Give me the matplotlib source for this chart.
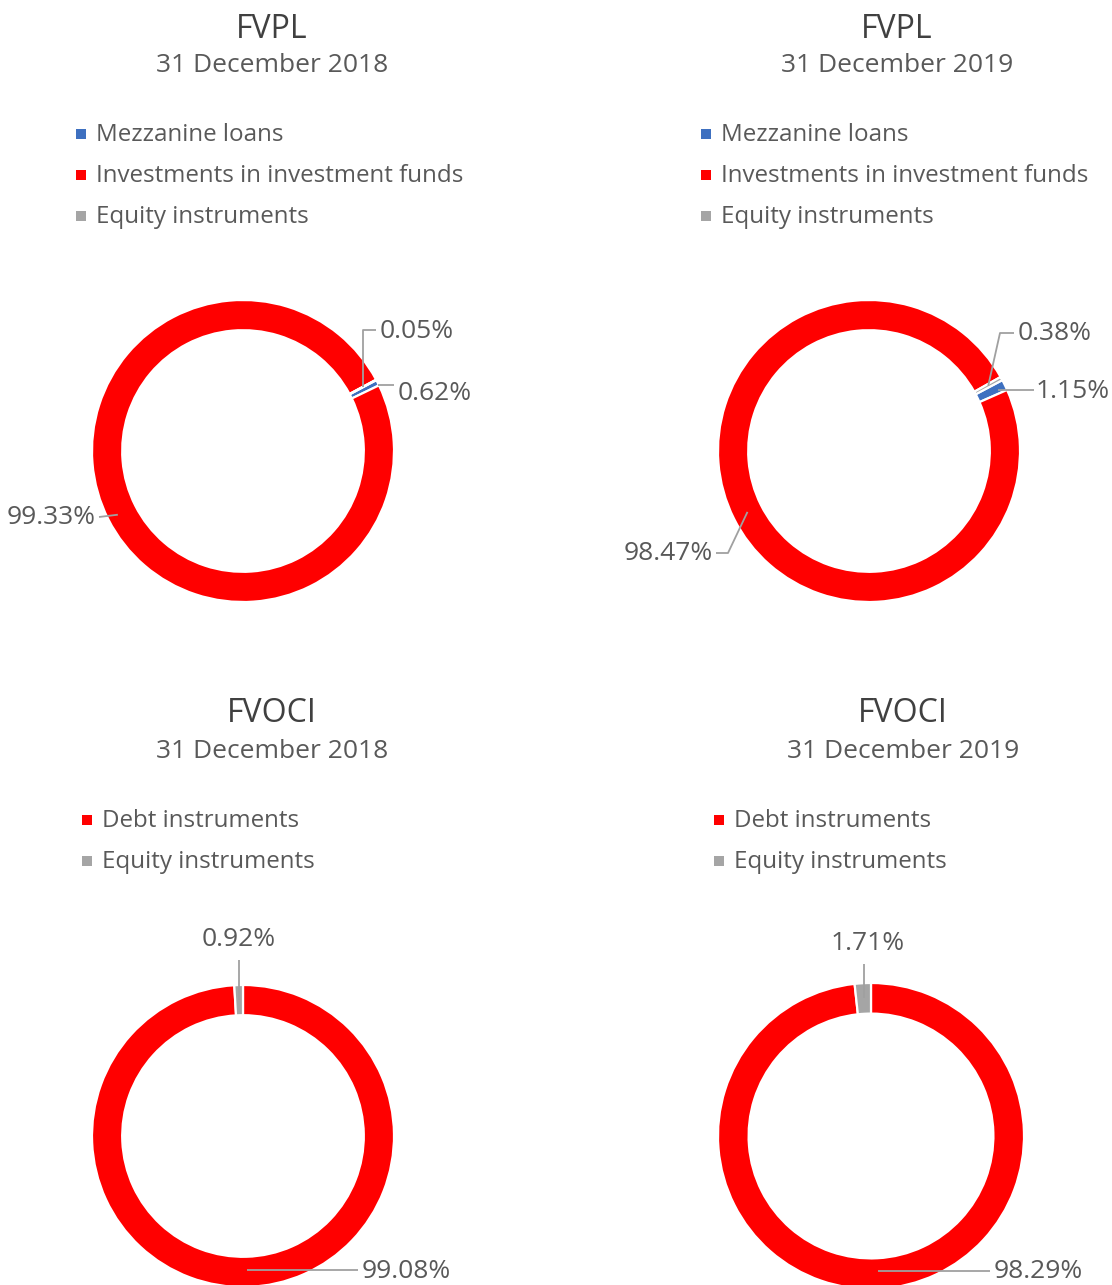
import numpy as np
import matplotlib
matplotlib.use("Agg")
import matplotlib.pyplot as plt

plt.rcParams['font.family'] = ['Open Sans', 'DejaVu Sans']

# ---------------- data ----------------
fvpl_labels = ["Mezzanine loans", "Investments in investment funds", "Equity instruments"]
fvpl_2018 = [0.62, 99.33, 0.05]
fvpl_2019 = [1.15, 98.47, 0.38]
fvoci_labels = ["Debt instruments", "Equity instruments"]
fvoci_2018 = [99.08, 0.92]
fvoci_2019 = [98.29, 1.71]
dates = ["31 December 2018", "31 December 2019"]

# ---------------- style ----------------
BLUE = "#3E70C0"
RED = "#FF0000"
GREY = "#A5A5A5"
TXT = "#595959"
LEAD = "#A0A0A0"
fvpl_colors = [BLUE, RED, GREY]
fvoci_colors = [RED, GREY]

W, H = 1112, 1285
fig = plt.figure(figsize=(W / 100, H / 100), dpi=100)
fig.patch.set_facecolor("white")

# overlay in pixel coords for texts & leader lines
ov = fig.add_axes([0, 0, 1, 1], zorder=5)
ov.set_xlim(0, W)
ov.set_ylim(H, 0)
ov.axis("off")
ov.patch.set_alpha(0)


def donut(cx, cy, R, values, colors, startangle):
    ax = fig.add_axes([(cx - R) / W, 1 - (cy + R) / H, 2 * R / W, 2 * R / H], zorder=1)
    wedges, _ = ax.pie(values, colors=colors, startangle=startangle, counterclock=False,
                       radius=1, wedgeprops=dict(width=0.2, edgecolor="white", linewidth=1.6))
    ax.set_xlim(-1, 1)
    ax.set_ylim(-1, 1)
    ax.axis("off")
    pts = []
    for w in wedges:
        a = np.deg2rad((w.theta1 + w.theta2) / 2)
        pts.append((a, cx, cy, R))
    return pts


def anchor(p, r):
    a, cx, cy, R = p
    return cx + r * R * np.cos(a), cy - r * R * np.sin(a)


def leader(path):
    xs, ys = zip(*path)
    ov.plot(xs, ys, color=LEAD, lw=1.3, solid_capstyle="butt")


def legend(x, y0, dy, labels, colors, fs):
    for i, (lab, c) in enumerate(zip(labels, colors)):
        y = y0 + i * dy
        ov.add_patch(plt.Rectangle((x - 5, y - 5), 10, 10, color=c, lw=0))
        ov.text(x + 15, y + 1, lab, fontsize=fs, color=TXT, va="center", ha="left")


def titles(cx, y1, y2, t1, t2):
    ov.text(cx, y1 + 2, t1, fontsize=23, color="#404040", ha="center", va="center")
    ov.text(cx, y2 + 1, t2, fontsize=19, color=TXT, ha="center", va="center")


LFS = 17.4
PFS = 19
# ---------- FVPL 2018 ----------
titles(272, 28, 65, "FVPL", dates[0])
legend(81, 134, 41, fvpl_labels, fvpl_colors, LFS)
p = donut(243, 451, 151, fvpl_2018, fvpl_colors, 28)
ax_, ay_ = anchor(p[2], 0.9)
leader([(ax_, ay_), (ax_, 330), (376, 330)])
ov.text(380, 331, f"{fvpl_2018[2]:.2f}%", fontsize=PFS, color=TXT, va="center", ha="left")
ax_, ay_ = anchor(p[0], 1.0)
leader([(ax_, ay_ + 2), (394, ay_ + 2)])
ov.text(398, 393, f"{fvpl_2018[0]:.2f}%", fontsize=PFS, color=TXT, va="center", ha="left")
ax_, ay_ = anchor(p[1], 0.93)
leader([(99, 517), (ax_, ay_)])
ov.text(96, 518, f"{fvpl_2018[1]:.2f}%", fontsize=PFS, color=TXT, va="center", ha="right")

# ---------- FVPL 2019 ----------
titles(897, 28, 65, "FVPL", dates[1])
legend(706, 134, 41, fvpl_labels, fvpl_colors, LFS)
p = donut(869, 451, 151, fvpl_2019, fvpl_colors, 28)
ax_, ay_ = anchor(p[2], 0.9)
leader([(ax_, ay_), (1000, 333), (1014, 333)])
ov.text(1018, 334, f"{fvpl_2019[2]:.2f}%", fontsize=PFS, color=TXT, va="center", ha="left")
ax_, ay_ = anchor(p[0], 0.95)
leader([(ax_, 390), (1034, 390)])
ov.text(1036, 392, f"{fvpl_2019[0]:.2f}%", fontsize=PFS, color=TXT, va="center", ha="left")
ax_, ay_ = anchor(p[1], 0.9)
leader([(716, 553), (728, 553), (ax_, ay_)])
ov.text(713, 554, f"{fvpl_2019[1]:.2f}%", fontsize=PFS, color=TXT, va="center", ha="right")

# ---------- FVOCI 2018 ----------
titles(272, 712, 750, "FVOCI", dates[0])
legend(87, 820, 41, fvoci_labels, fvoci_colors, LFS)
p = donut(243, 1136, 151, fvoci_2018, fvoci_colors, 90)
ax_, ay_ = anchor(p[1], 0.9)
leader([(ax_, ay_), (ax_, 960)])
ov.text(ax_, 940, f"{fvoci_2018[1]:.2f}%", fontsize=PFS, color=TXT, va="center", ha="center")
ax_, ay_ = anchor(p[0], 0.89)
leader([(ax_, 1270), (358, 1270)])
ov.text(362, 1271, f"{fvoci_2018[0]:.2f}%", fontsize=PFS, color=TXT, va="center", ha="left")

# ---------- FVOCI 2019 ----------
titles(903, 712, 750, "FVOCI", dates[1])
legend(719, 820, 41, fvoci_labels, fvoci_colors, LFS)
p = donut(871, 1136, 153, fvoci_2019, fvoci_colors, 90)
ax_, ay_ = anchor(p[1], 0.9)
leader([(ax_, ay_), (ax_, 964)])
ov.text(868, 944, f"{fvoci_2019[1]:.2f}%", fontsize=PFS, color=TXT, va="center", ha="center")
ax_, ay_ = anchor(p[0], 0.89)
leader([(ax_, 1271), (990, 1271)])
ov.text(994, 1272, f"{fvoci_2019[0]:.2f}%", fontsize=PFS, color=TXT, va="center", ha="left")

fig.savefig("out.png", dpi=100, facecolor="white")
